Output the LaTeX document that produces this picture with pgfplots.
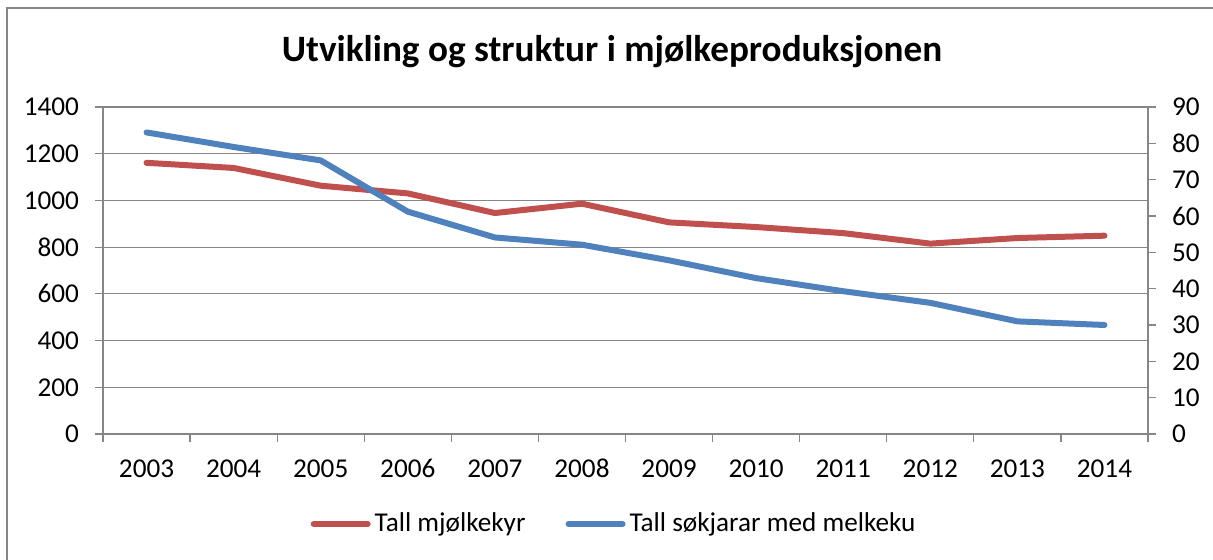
\documentclass[border=0pt]{standalone}
\usepackage{pgfplots}
\pgfplotsset{compat=1.18}
\usepackage{fontspec}
\setmainfont{Carlito}
\definecolor{cred}{HTML}{C0504D}
\definecolor{cblue}{HTML}{4F81BD}
\definecolor{cgrid}{HTML}{868686}
\pgfplotsset{
  base/.style={
    scale only axis, width=522.5pt, height=163.5pt,
    at={(51.5pt,63pt)}, anchor=south west,
    xmin=-0.5, xmax=11.5,
    axis line style={-, cgrid, line width=0.6pt},
    tick align=outside, major tick length=4pt,
    tick style={cgrid, line width=0.6pt},
    ticklabel style={font=\fontsize{13.6}{15}\selectfont},
    /pgf/number format/assume math mode=true,
    /pgf/number format/1000 sep={},
  }
}
\begin{document}
\begin{tikzpicture}
\path[use as bounding box] (0,0) rectangle (606.5pt,280pt);
\draw[cgrid, line width=0.75pt] (3.5pt,-2pt) -- (3.5pt,276pt) -- (610pt,276pt);
\node[font=\fontsize{18.6}{22}\selectfont\bfseries] at (306pt,254pt) {Utvikling og struktur i mjølkeproduksjonen};
\begin{axis}[base,
  ymin=0, ymax=1400,
  axis x line*=bottom, axis y line*=left,
  xtick={-0.5,0.5,...,11.5}, xticklabels={},
  extra x ticks={0,1,...,11},
  extra x tick labels={2003,2004,2005,2006,2007,2008,2009,2010,2011,2012,2013,2014},
  extra x tick style={major tick length=0pt, grid=none,
    tick label style={text height=9pt, text depth=0pt, yshift=-9pt}},
  ytick={0,200,...,1400},
  y tick label style={xshift=-4.5pt},
  ymajorgrids, grid style={cgrid, line width=0.6pt},
]
\addplot[cred, line width=3pt, line cap=round, line join=round] coordinates {
(0,1161) (1,1139) (2,1063) (3,1030) (4,946) (5,986) (6,906) (7,886) (8,860) (9,815) (10,839) (11,849)};
\end{axis}
\begin{axis}[base,
  ymin=0, ymax=90,
  axis y line*=right, axis x line=none,
  ytick={0,10,...,90},
  y tick label style={xshift=4.5pt},
  legend columns=2,
  legend style={draw=none, at={(0.49,-0.275)}, anchor=center,
    font=\fontsize{13.6}{15}\selectfont,
    /tikz/every even column/.append style={column sep=18pt}},
  legend image code/.code={\draw[#1] (0pt,0pt) -- (27pt,0pt);},
]
\addlegendimage{cred, line width=3pt, line cap=round}
\addlegendentry{Tall mjølkekyr}
\addplot[cblue, line width=3pt, line cap=round, line join=round] coordinates {
(0,83.0) (1,79.0) (2,75.3) (3,61.2) (4,54.1) (5,52.1) (6,47.8) (7,42.9) (8,39.3) (9,36.1) (10,31.0) (11,30.0)};
\addlegendentry{Tall søkjarar med melkeku}
\end{axis}
\end{tikzpicture}
\end{document}
